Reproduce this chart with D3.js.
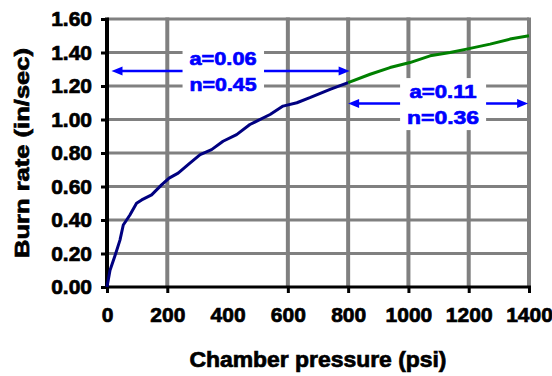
<!DOCTYPE html>
<html>
<head>
<meta charset="utf-8">
<script src="https://cdn.jsdelivr.net/npm/d3@7"></script>
<style>
  html, body { margin: 0; padding: 0; background: #fff; }
  svg { display: block; }
  text { font-family: "Liberation Sans", Arial, sans-serif; font-weight: bold; }
</style>
</head>
<body>
<svg id="chart" width="552" height="376"></svg>
<script>
// Measured burn rate vs chamber pressure, low-pressure regime
const lowPressure = [0, 10, 27, 43, 54, 76, 98, 115, 148, 181, 206, 236, 275, 309, 347, 385, 430, 474, 541, 584, 630, 673, 740, 800];
const lowRate     = [0, 0.10, 0.19, 0.28, 0.37, 0.43, 0.50, 0.52, 0.55, 0.61, 0.65, 0.68, 0.74, 0.79, 0.82, 0.87, 0.91, 0.97, 1.03, 1.08, 1.10, 1.13, 1.18, 1.22];

// High-pressure regime
const highPressure = [800, 873, 939, 1005, 1072, 1138, 1193, 1271, 1337, 1400];
const highRate     = [1.22, 1.27, 1.31, 1.34, 1.38, 1.40, 1.42, 1.45, 1.48, 1.50];

// Axis ticks
const xTicks = [0, 200, 400, 600, 800, 1000, 1200, 1400];
const xGridTicks = [0, 200, 600, 800, 1000, 1200, 1400];
const yTicks = [0, 0.2, 0.4, 0.6, 0.8, 1.0, 1.2, 1.4, 1.6];

// Power-law fit labels (r = a * P^n) for each regime
const fitLabels = [
  { a: "a=0.06", n: "n=0.45", from: 15, to: 805, level: 1.29, at: 385 },
  { a: "a=0.11", n: "n=0.36", from: 800, to: 1397, level: 1.095, at: 1115 }
];

const svg = d3.select("#chart");
const margin = { left: 107, right: 23, top: 19, bottom: 89 };
const W = 552, H = 376;

const x = d3.scaleLinear().domain([0, 1400]).range([margin.left, W - margin.right]);
const y = d3.scaleLinear().domain([0, 1.6]).range([H - margin.bottom, margin.top]);

const grid = svg.append("g");
// horizontal gridlines
grid.selectAll("line.h").data(yTicks.filter(d => d > 0)).join("line")
  .attr("x1", x(0)).attr("x2", x(1400))
  .attr("y1", d => y(d)).attr("y2", d => y(d))
  .attr("stroke", "#808080").attr("stroke-width", 3);
// vertical gridlines
grid.selectAll("line.v").data(xGridTicks.filter(d => d > 0)).join("line")
  .attr("x1", d => x(d)).attr("x2", d => x(d))
  .attr("y1", y(0)).attr("y2", y(1.6) - 1.5)
  .attr("stroke", "#808080").attr("stroke-width", 4);

const heavy = sel => sel.attr("stroke", "currentColor").attr("stroke-width", 0.7);

// Axes
const yAxis = d3.axisLeft(y).tickValues(yTicks).tickFormat(d3.format(".2f")).tickSize(6).tickPadding(9);
const gy = svg.append("g").attr("transform", `translate(${x(0)},0)`).call(yAxis);
gy.select(".domain").remove();
gy.selectAll(".tick line").attr("stroke", "#000").attr("stroke-width", 3);
gy.selectAll(".tick text").attr("font-size", 21).attr("fill", "#000").style("color", "#000")
  .style("font-family", "'Liberation Sans', Arial, sans-serif").style("font-weight", "bold").call(heavy);

const xAxis = d3.axisBottom(x).tickValues(xTicks).tickFormat(d3.format("d")).tickSize(6).tickPadding(14);
const gx = svg.append("g").attr("transform", `translate(0,${y(0)})`).call(xAxis);
gx.select(".domain").remove();
gx.selectAll(".tick line").attr("stroke", d => xGridTicks.includes(d) ? "#000" : "none").attr("stroke-width", 3);
gx.selectAll(".tick text").attr("font-size", 21).attr("fill", "#000").style("color", "#000")
  .style("font-family", "'Liberation Sans', Arial, sans-serif").style("font-weight", "bold").call(heavy);

// axis lines
svg.append("line").attr("x1", x(0)).attr("x2", x(1400) + 2).attr("y1", y(0)).attr("y2", y(0))
  .attr("stroke", "#000").attr("stroke-width", 3);
svg.append("line").attr("x1", x(0)).attr("x2", x(0)).attr("y1", y(0) + 1.5).attr("y2", y(1.6) - 1.5)
  .attr("stroke", "#000").attr("stroke-width", 4);

// Data lines
const line = d3.line().x(d => x(d[0])).y(d => y(d[1]));
svg.append("path").datum(d3.zip(lowPressure, lowRate))
  .attr("d", line).attr("fill", "none").attr("stroke", "#000080").attr("stroke-width", 3)
  .attr("stroke-linejoin", "round");
svg.append("path").datum(d3.zip(highPressure, highRate))
  .attr("d", line).attr("fill", "none").attr("stroke", "#008000").attr("stroke-width", 3)
  .attr("stroke-linejoin", "round");

// Fit annotations with double-headed arrows
const blue = "#0000ff";
fitLabels.forEach(f => {
  const g = svg.append("g").style("color", blue);
  const cx = x(f.at), cy = y(f.level);
  const bg = g.append("rect").attr("fill", "#fff");
  const t1 = g.append("text").attr("x", cx).attr("y", cy - 12).attr("text-anchor", "middle")
    .attr("dominant-baseline", "central").attr("font-size", 19).attr("fill", blue)
    .attr("textLength", 67).attr("lengthAdjust", "spacingAndGlyphs").text(f.a).call(heavy);
  const t2 = g.append("text").attr("x", cx).attr("y", cy + 14).attr("text-anchor", "middle")
    .attr("dominant-baseline", "central").attr("font-size", 19).attr("fill", blue)
    .attr("textLength", f.n === "n=0.36" ? 72 : 67).attr("lengthAdjust", "spacingAndGlyphs").text(f.n).call(heavy);
  const b1 = t1.node().getBBox(), b2 = t2.node().getBBox();
  const left = Math.min(b1.x, b2.x) - 7, right = Math.max(b1.x + b1.width, b2.x + b2.width) + 7;
  const top = b1.y - 3, bottom = b2.y + b2.height + 2;
  bg.attr("x", left).attr("y", top).attr("width", right - left).attr("height", bottom - top);

  const x0 = x(f.from), x1 = x(f.to), ah = 11, hw = 4.5;
  g.append("line").attr("x1", x0 + ah - 1).attr("x2", left).attr("y1", cy).attr("y2", cy)
    .attr("stroke", blue).attr("stroke-width", 2.5);
  g.append("line").attr("x1", right).attr("x2", x1 - ah + 1).attr("y1", cy).attr("y2", cy)
    .attr("stroke", blue).attr("stroke-width", 2.5);
  g.append("path").attr("d", `M${x0},${cy} L${x0 + ah},${cy - hw} L${x0 + ah},${cy + hw} Z`).attr("fill", blue);
  g.append("path").attr("d", `M${x1},${cy} L${x1 - ah},${cy - hw} L${x1 - ah},${cy + hw} Z`).attr("fill", blue);
});

// Axis titles
svg.append("text").attr("x", 318).attr("y", 367).attr("text-anchor", "middle")
  .attr("font-size", 22).attr("fill", "#000").style("color", "#000")
  .attr("textLength", 257).attr("lengthAdjust", "spacingAndGlyphs")
  .text("Chamber pressure (psi)").call(heavy);
svg.append("text").attr("transform", `translate(29,${(y(0) + y(1.6)) / 2}) rotate(-90)`)
  .attr("text-anchor", "middle").attr("font-size", 21).attr("fill", "#000").style("color", "#000")
  .attr("textLength", 210).attr("lengthAdjust", "spacingAndGlyphs")
  .text("Burn rate (in/sec)").call(heavy);
</script>
</body>
</html>
